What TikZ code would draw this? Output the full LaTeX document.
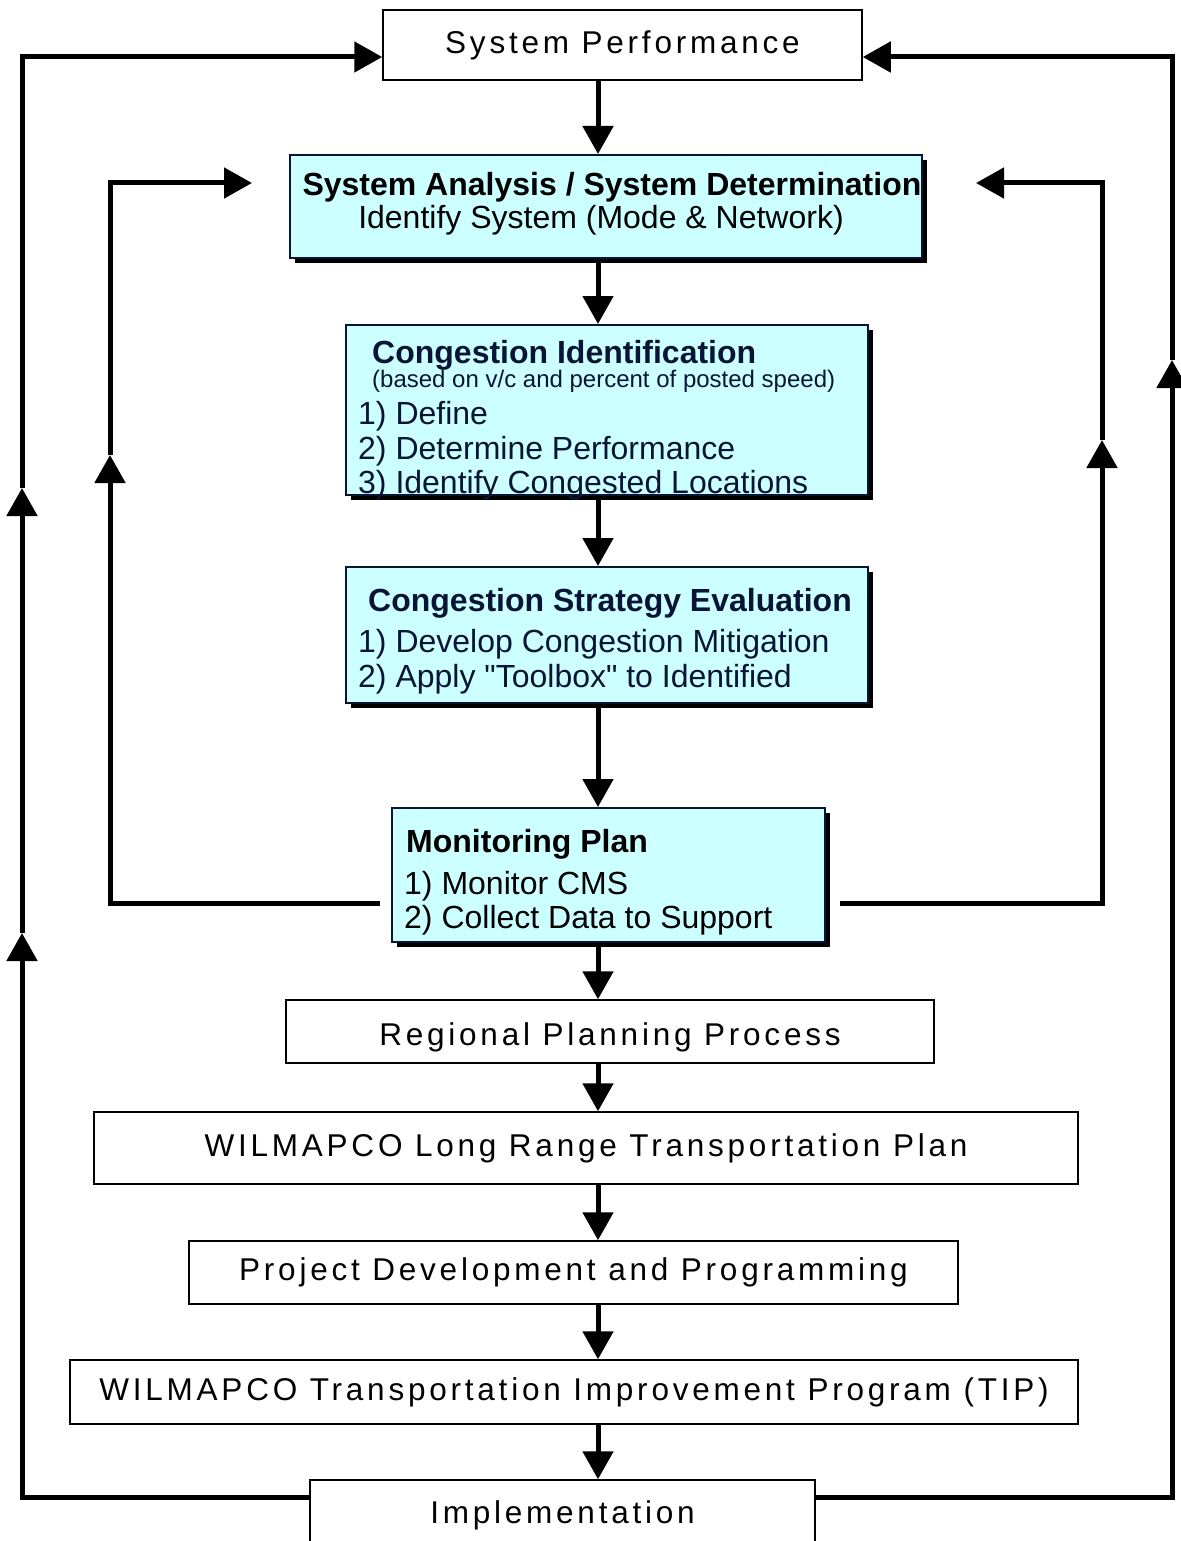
\documentclass[tikz,border=0pt]{standalone}
\usepackage{fontspec}
\setmainfont{Liberation Sans}[Ligatures=TeXOff]
\newfontfamily\spacedfont[LetterSpace=12]{Liberation Sans}
\usetikzlibrary{arrows.meta,shadows}
\definecolor{cmscyan}{HTML}{CCFFFF}
\definecolor{cmsnavy}{HTML}{0A1535}
\begin{document}
\begin{tikzpicture}[x=1pt,y=-1pt,
  plainbox/.style={draw=black, line width=1.5pt, fill=white, inner sep=0pt, font=\spacedfont\fontsize{31.5}{34}\selectfont},
  cmsbox/.style={draw=cmsnavy, line width=2pt, fill=cmscyan, inner sep=0pt, drop shadow={shadow xshift=5pt, shadow yshift=-5pt, fill=black, opacity=1}},
  head/.style={inner sep=0pt, anchor=base west, font=\bfseries\fontsize{32}{34}\selectfont},
  item/.style={inner sep=0pt, anchor=base west, font=\fontsize{32}{34}\selectfont},
  note/.style={inner sep=0pt, anchor=base west, font=\fontsize{24}{26}\selectfont},
  flow/.style={line width=5pt, -{Triangle[width=30pt,length=28pt]}}]
\useasboundingbox (0,0) rectangle (1180,1541);

\node [plainbox, minimum width=479pt, minimum height=70pt] (sp) at (622.5,45) {System Performance};
\node [cmsbox, minimum width=632pt, minimum height=103pt] (sa) at (606,206.5) {};
\node [cmsbox, minimum width=522pt, minimum height=170pt] (ci) at (607,410) {};
\node [cmsbox, minimum width=522pt, minimum height=136pt] (cse) at (607,635) {};
\node [cmsbox, minimum width=433pt, minimum height=134pt] (mp) at (608.5,875) {};
\node [plainbox, minimum width=648pt, minimum height=63pt, text height=29pt, text depth=1pt] (rpp) at (610,1031.5) {Regional Planning Process};
\node [plainbox, minimum width=984pt, minimum height=72pt] (lrtp) at (586,1148) {WILMAPCO Long Range Transportation Plan};
\node [plainbox, minimum width=769pt, minimum height=63pt] (pdp) at (573.5,1272.5) {Project Development and Programming};
\node [plainbox, minimum width=1008pt, minimum height=64pt] (tip) at (574,1392) {WILMAPCO Transportation Improvement Program (TIP)};
\node [plainbox, minimum width=505pt, minimum height=70pt] (imp) at (562.5,1515) {Implementation};

\node [head, anchor=base] (sa-l1) at (612,196) {System Analysis / System Determination};
\node [item, anchor=base] (sa-l2) at (601,229) {Identify System (Mode \& Network)};
\node [head, text=cmsnavy] (ci-l1) at (372,363) {Congestion Identification};
\node [note, text=cmsnavy] (ci-l2) at (372,387) {(based on v/c and percent of posted speed)};
\node [item, text=cmsnavy] (ci-l3) at (358,424) {1) Define};
\node [item, text=cmsnavy] (ci-l4) at (358,459) {2) Determine Performance};
\node [item, text=cmsnavy] (ci-l5) at (358,493) {3) Identify Congested Locations};
\node [head, text=cmsnavy] (cse-l1) at (368,611) {Congestion Strategy Evaluation};
\node [item, text=cmsnavy] (cse-l2) at (358,652) {1) Develop Congestion Mitigation};
\node [item, text=cmsnavy] (cse-l3) at (358,687) {2) Apply "Toolbox" to Identified};
\node [head] (mp-l1) at (406,852) {Monitoring Plan};
\node [item] (mp-l2) at (404,894) {1) Monitor CMS};
\node [item] (mp-l3) at (404,928) {2) Collect Data to Support};

\coordinate (spine) at (598,0);
\coordinate (ol-bot) at (22,1497);
\coordinate (ol-a1) at (22,933);
\coordinate (ol-a2) at (22,488);
\coordinate (ol-top) at (22,57);
\coordinate (or-bot) at (1172,1497);
\coordinate (or-a1) at (1172,360);
\coordinate (or-top) at (1172,57);
\coordinate (il-bot) at (110,903);
\coordinate (il-a1) at (110,455);
\coordinate (il-top) at (110,183);
\coordinate (ir-bot) at (1102,903);
\coordinate (ir-a1) at (1102,440);
\coordinate (ir-top) at (1102,183);

\draw [flow] (sp.south -| spine) -- (sa.north -| spine);
\draw [flow] (sa.south -| spine) -- (ci.north -| spine);
\draw [flow] (ci.south -| spine) -- (cse.north -| spine);
\draw [flow] (cse.south -| spine) -- (mp.north -| spine);
\draw [flow] (mp.south -| spine) -- (rpp.north -| spine);
\draw [flow] (rpp.south -| spine) -- (lrtp.north -| spine);
\draw [flow] (lrtp.south -| spine) -- (pdp.north -| spine);
\draw [flow] (pdp.south -| spine) -- (tip.north -| spine);
\draw [flow] (tip.south -| spine) -- (imp.north -| spine);

\draw [flow] (ol-bot -| imp.west) -- (ol-bot) -- (ol-a1);
\draw [flow] (ol-a1) -- (ol-a2);
\draw [flow] (ol-a2) -- (ol-top) -- (ol-top -| sp.west);
\draw [flow] (or-bot -| imp.east) -- (or-bot) -- (or-a1);
\draw [flow] (or-a1) -- (or-top) -- (or-top -| sp.east);

\draw [flow, shorten <=11pt] (il-bot -| mp.west) -- (il-bot) -- (il-a1);
\draw [flow, shorten >=37pt] (il-a1) -- (il-top) -- (il-top -| sa.west);
\draw [flow, shorten <=14pt] (ir-bot -| mp.east) -- (ir-bot) -- (ir-a1);
\draw [flow, shorten >=53pt] (ir-a1) -- (ir-top) -- (ir-top -| sa.east);
\end{tikzpicture}
\end{document}
